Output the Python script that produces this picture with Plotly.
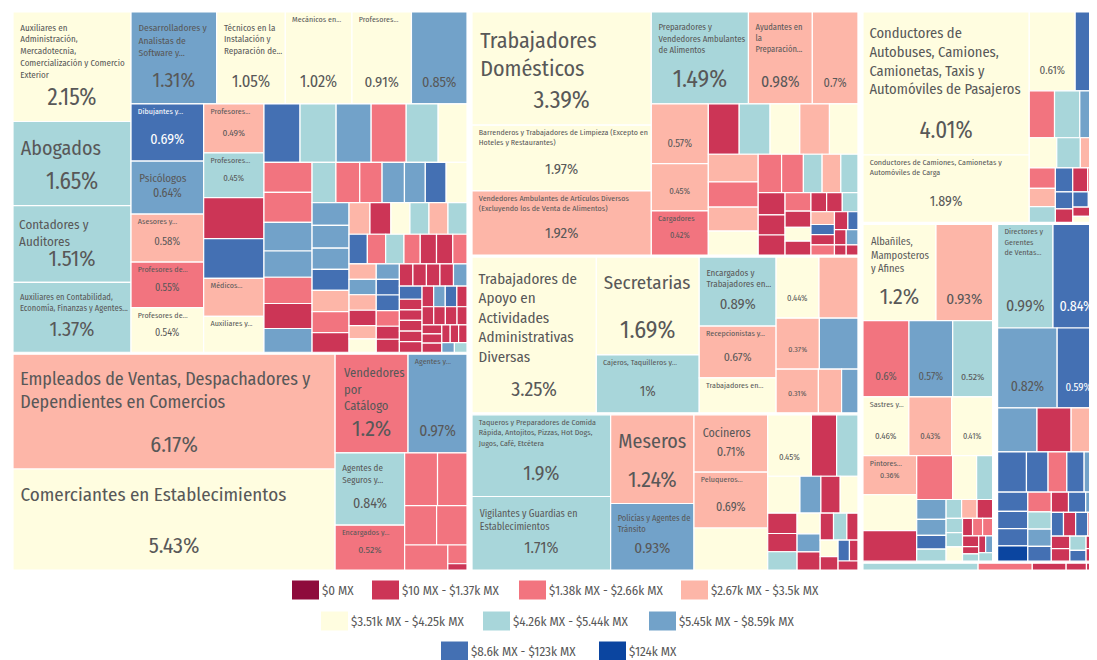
"""
Treemap de ocupaciones coloreado por rango de ingreso.
Plotly treemap (squarify, ratio aureo) + leyenda dibujada a mano.
"""

import plotly.graph_objects as go

# ── Rangos de ingreso (leyenda) ───────────────────────────────────────────────
bin_labels = [
    "$0 MX", "$10 MX - $1.37k MX", "$1.38k MX - $2.66k MX", "$2.67k MX - $3.5k MX",
    "$3.51k MX - $4.25k MX", "$4.26k MX - $5.44k MX", "$5.45k MX - $8.59k MX",
    "$8.6k MX - $123k MX", "$124k MX",
]
bin_colors = [
    "#8e0b3c", "#cc3556", "#f2747f", "#fdb6a8", "#fffde0",
    "#a8d6da", "#72a2c9", "#4470b3", "#0b45a0",
]

# ── Grandes grupos de ocupacion ───────────────────────────────────────────────
group_keys = ["prof", "ventas", "elem", "admin", "serv", "transp", "artes", "direc", "agro"]
group_names = [
    "Profesionistas y Técnicos",
    "Comerciantes, Empleados en Ventas y Agentes de Ventas",
    "Trabajadores en Actividades Elementales y de Apoyo",
    "Trabajadores Auxiliares en Actividades Administrativas",
    "Trabajadores en Servicios Personales y Vigilancia",
    "Operadores de Maquinaria Industrial, Ensambladores, Choferes y Conductores de Transporte",
    "Trabajadores Artesanales",
    "Funcionarios, Directores y Jefes",
    "Trabajadores en Actividades Agrícolas, Ganaderas, Forestales, Caza y Pesca",
]

# labels: "" -> solo porcentaje, None -> sin texto; ocupaciones sin etiqueta al final
prof_labels = [
    "Auxiliares en<br>Administración,<br>Mercadotecnia,<br>Comercialización y Comercio<br>Exterior",
    "Abogados", "Contadores y<br>Auditores",
    "Auxiliares en Contabilidad,<br>Economía, Finanzas y Agentes...",
    "Desarrolladores y<br>Analistas de<br>Software y...",
    "Técnicos en la<br>Instalación y<br>Reparación de...",
    "Mecánicos en...", "Profesores...", "", "Dibujantes y...", "Psicólogos",
    "Asesores y...", "Profesores de...", "Profesores de...", "Profesores...", "Profesores...",
    None, None, "Médicos...", "Auxiliares y...",
]
prof_values = [
    2.15, 1.65, 1.51, 1.37, 1.31, 1.05, 1.02, 0.91, 0.85, 0.69, 0.64, 0.58, 0.55, 0.54,
    0.49, 0.45, 0.41, 0.40, 0.38, 0.36,
    0.35, 0.35, 0.34, 0.34, 0.31, 0.28, 0.24, 0.24, 0.23, 0.21, 0.21, 0.20, 0.19,
    0.16, 0.16, 0.15, 0.15, 0.14, 0.14, 0.14, 0.14, 0.14, 0.13, 0.13, 0.13, 0.13, 0.12,
    0.11, 0.11, 0.10, 0.10, 0.10, 0.10, 0.09, 0.09, 0.09, 0.08, 0.08, 0.08,
    0.07, 0.07, 0.07, 0.07, 0.07, 0.06, 0.06, 0.06, 0.06, 0.06, 0.06,
    0.05, 0.05, 0.05, 0.05, 0.05, 0.05, 0.05, 0.05, 0.04, 0.04, 0.04, 0.04, 0.04, 0.04,
    0.04, 0.04, 0.035, 0.035, 0.035, 0.035, 0.03, 0.03, 0.03, 0.03, 0.025, 0.025, 0.025,
    0.02, 0.02,
]
prof_bins = [
    4, 5, 5, 5, 6, 4, 4, 4, 6, 7, 6, 3, 2, 4, 3, 5, 1, 7, 3, 4,
    7, 5, 6, 2, 5, 4, 2, 2, 6, 6, 2, 1, 6,
    5, 2, 2, 6, 6, 7, 4, 6, 6, 6, 7, 3, 2, 1,
    3, 1, 4, 5, 3, 5, 7, 2, 5, 2, 1, 1,
    2, 3, 6, 3, 1, 3, 4, 6, 7, 7, 2,
    1, 1, 1, 1, 1, 1, 6, 7, 1, 1, 1, 1, 1, 1,
    6, 7, 1, 1, 1, 1, 1, 1, 1, 1, 1, 1, 1,
    6, 5,
]

ventas_labels = [
    "Empleados de Ventas, Despachadores y<br>Dependientes en Comercios",
    "Comerciantes en Establecimientos", "Vendedores<br>por<br>Catálogo",
    "Agentes y...", "Agentes de<br>Seguros y...", "Encargados y...",
]
ventas_values = [6.17, 5.43, 1.2, 0.97, 0.84, 0.52, 0.29, 0.26, 0.21, 0.20, 0.18, 0.06, 0.02]
ventas_bins = [3, 4, 2, 6, 5, 2, 2, 2, 2, 2, 2, 2, 1]

elem_labels = [
    "Trabajadores<br>Domésticos",
    "Barrenderos y Trabajadores de Limpieza (Excepto en<br>Hoteles y Restaurantes)",
    "Vendedores Ambulantes de Artículos Diversos<br>(Excluyendo los de Venta de Alimentos)",
    "Preparadores y<br>Vendedores Ambulantes<br>de Alimentos",
    "Ayudantes en<br>la<br>Preparación...", "", "", "", "Cargadores",
]
elem_values = [
    3.39, 1.97, 1.92, 1.49, 0.98, 0.7, 0.57, 0.45, 0.42,
    0.26, 0.26, 0.25, 0.25, 0.24, 0.23, 0.21, 0.20, 0.20, 0.15, 0.14, 0.12, 0.12, 0.11,
    0.10, 0.09, 0.09, 0.08, 0.07, 0.06, 0.06, 0.05, 0.05, 0.05, 0.05, 0.04, 0.04, 0.04,
    0.04, 0.03, 0.03, 0.03, 0.02, 0.02,
]
elem_bins = [
    4, 4, 3, 5, 3, 3, 3, 3, 2,
    1, 5, 4, 3, 4, 3, 2, 3, 4, 2, 2, 5, 3, 5,
    1, 1, 1, 2, 1, 4, 1, 1, 1, 5, 3, 7, 1, 2,
    1, 7, 1, 6, 1, 1,
]

admin_labels = [
    "Trabajadores de<br>Apoyo en<br>Actividades<br>Administrativas<br>Diversas",
    "Secretarias", "Cajeros, Taquilleros y...", "Encargados y<br>Trabajadores en...",
    "Recepcionistas y...", "Trabajadores en...", "", None, "", None, "",
]
admin_values = [3.25, 1.69, 1.0, 0.89, 0.67, 0.45, 0.44, 0.40, 0.37, 0.33, 0.31, 0.17, 0.12]
admin_bins = [4, 4, 5, 5, 3, 4, 4, 3, 3, 6, 3, 3, 6]

serv_labels = [
    "Taqueros y Preparadores de Comida<br>Rápida, Antojitos, Pizzas, Hot Dogs,<br>Jugos, Café, Etcétera",
    "Vigilantes y Guardias en<br>Establecimientos", "Meseros",
    "Policías y Agentes de<br>Tránsito", "Cocineros", "Peluqueros...", None, "",
]
serv_values = [
    1.9, 1.71, 1.24, 0.93, 0.71, 0.69, 0.52, 0.45,
    0.26, 0.22, 0.20, 0.13, 0.12, 0.11, 0.10, 0.09, 0.09, 0.08,
    0.07, 0.07, 0.06, 0.06, 0.05, 0.05, 0.04, 0.04, 0.03, 0.03,
]
serv_bins = [
    5, 5, 3, 6, 3, 3, 4, 4,
    1, 5, 4, 6, 1, 4, 1, 1, 5, 4,
    6, 1, 1, 5, 1, 4, 1, 7, 1, 1,
]

transp_labels = [
    "Conductores de<br>Autobuses, Camiones,<br>Camionetas, Taxis y<br>Automóviles de Pasajeros",
    "Conductores de Camiones, Camionetas y<br>Automóviles de Carga", "", None,
]
transp_values = [
    4.01, 1.89, 0.61, 0.33,
    0.20, 0.20, 0.16, 0.14, 0.12, 0.10, 0.09, 0.08, 0.07, 0.07,
    0.06, 0.05, 0.05, 0.04, 0.04, 0.03, 0.03, 0.02, 0.02,
]
transp_bins = [
    4, 4, 4, 7,
    2, 5, 6, 4, 5, 3, 2, 3, 5, 7,
    1, 2, 7, 1, 7, 3, 1, 4, 1,
]

artes_labels = [
    "Albañiles,<br>Mamposteros<br>y Afines", "", "", "", "", "Sastres y...", "", "",
    "Pintores...",
]
artes_values = [
    1.2, 0.93, 0.6, 0.57, 0.52, 0.46, 0.43, 0.41, 0.36,
    0.33, 0.28, 0.27, 0.18, 0.12, 0.10, 0.08, 0.07, 0.06, 0.05, 0.05, 0.05,
    0.04, 0.04, 0.04, 0.03, 0.03, 0.03, 0.03, 0.02, 0.02, 0.02, 0.02, 0.02,
]
artes_bins = [
    4, 3, 2, 6, 5, 4, 3, 4, 3,
    4, 1, 2, 4, 5, 6, 6, 7, 5, 5, 3, 1,
    5, 5, 4, 1, 2, 2, 1, 1, 5, 1, 6, 5,
]

direc_labels = ["Directores y<br>Gerentes<br>de Ventas...", "", "", ""]
direc_values = [
    0.99, 0.84, 0.82, 0.59,
    0.30, 0.26, 0.22, 0.20, 0.15, 0.13, 0.12, 0.11, 0.10, 0.09, 0.09, 0.08, 0.08,
    0.07, 0.07, 0.06, 0.06, 0.06, 0.05, 0.05, 0.05, 0.05, 0.05, 0.04, 0.04, 0.04,
    0.03, 0.03, 0.03,
]
direc_bins = [
    5, 7, 6, 7,
    6, 1, 3, 7, 7, 2, 7, 6, 7, 7, 7, 8, 2,
    5, 6, 7, 1, 7, 6, 7, 1, 7, 2, 1, 1, 5,
    7, 1, 1,
]

agro_labels = []
agro_values = [0.17, 0.08, 0.05, 0.03, 0.02]
agro_bins = [5, 2, 1, 1, 1]

# ── Estilo ───────────────────────────────────────────────────────────────────
FONT = "Fira Sans Condensed, Liberation Sans Narrow, DejaVu Sans Condensed, Roboto, sans-serif"
TEXT_GREY = "#585858"
CLEAR = "rgba(0,0,0,0)"
NO_PCT = {"Médicos...", "Auxiliares y...", "Trabajadores en..."}

# tamano de la etiqueta (por prefijo); por defecto 8
LABEL_SIZE = {
    "Auxiliares en<br>Admin": 9, "Abogados": 20, "Contadores": 13,
    "Auxiliares en Contab": 9, "Desarrolladores": 9.5, "Técnicos": 9,
    "Psicólogos": 11, "Empleados de Ventas": 18, "Comerciantes": 19,
    "Vendedores<br>por": 12.5, "Agentes de<br>Seguros": 9, "Trabajadores<br>Dom": 22,
    "Preparadores": 9, "Trabajadores de<br>Apoyo": 15, "Secretarias": 19,
    "Encargados y<br>Trab": 9, "Vigilantes": 10, "Meseros": 20, "Policías": 9,
    "Cocineros": 12, "Conductores de<br>Auto": 14.5, "Albañiles": 10.5, "Ayudantes": 8.5,
}
# excepciones al tamano del porcentaje
PCT_SIZE = {
    "Barrenderos": 15, "Vendedores Ambulantes": 15, "Conductores de Camiones": 14,
    "Vigilantes": 16, "Taqueros": 20, "Cajeros": 14, "Trabajadores de<br>Apoyo": 20,
    "Empleados": 22, "Comerciantes": 22, "Vendedores<br>por": 22, "Meseros": 22,
    "Albañiles": 22, "Trabajadores<br>Dom": 24, "Preparadores": 24, "Secretarias": 24,
    "Psicólogos": 12, "Dibujantes": 14,
}

# pagina: el navegador deja 8 px de margen al cuerpo
PAGE_OFF = 8
FIG_W, FIG_H = 1097, 660
MARGIN_L, MARGIN_T, PLOT_W, PLOT_H = 0, 2, 1097, 562


def _lookup(table, label, default):
    for key, val in table.items():
        if label and label.startswith(key):
            return val
    return default


def _pct_size(v):
    return max(8, min(23, 16 * v ** 0.75))


def _label_text(lab, size):
    """Etiqueta con un pequeno margen superior e izquierdo (como D3plus)."""
    indent = "&nbsp;" * (2 if size < 13 else 1)
    lines = [indent + line for line in lab.split("<br>")]
    if size > 8:
        # linea invisible para bajar un poco las etiquetas grandes
        lines.insert(0, f"<span style='font-size:4px;color:{CLEAR}'>.</span>")
    return "<br>".join(lines)


groups = [
    (prof_labels, prof_values, prof_bins),
    (ventas_labels, ventas_values, ventas_bins),
    (elem_labels, elem_values, elem_bins),
    (admin_labels, admin_values, admin_bins),
    (serv_labels, serv_values, serv_bins),
    (transp_labels, transp_values, transp_bins),
    (artes_labels, artes_values, artes_bins),
    (direc_labels, direc_values, direc_bins),
    (agro_labels, agro_values, agro_bins),
]

ids, parents, labels, values, colors = ["root"], [""], ["Ocupaciones"], [0], ["white"]
label_txt, pct_txt, label_sz, txt_col = [""], [""], [8], [CLEAR]

for key, name in zip(group_keys, group_names):
    ids.append(key)
    parents.append("root")
    labels.append(name)
    values.append(0)
    colors.append("white")
    label_txt.append("")
    pct_txt.append("")
    label_sz.append(8)
    txt_col.append(CLEAR)

for key, (g_labels, g_values, g_bins) in zip(group_keys, groups):
    for i, (v, b) in enumerate(zip(g_values, g_bins)):
        lab = g_labels[i] if i < len(g_labels) else None
        size = _lookup(LABEL_SIZE, lab, 8)
        ids.append(f"{key}{i}")
        parents.append(key)
        labels.append(lab.replace("<br>", " ") if lab else "Otra ocupación")
        values.append(v)
        colors.append(bin_colors[b])
        txt_col.append("white" if b in (0, 7, 8) else TEXT_GREY)
        label_txt.append(_label_text(lab, size) if lab else "")
        label_sz.append(size)
        if lab is not None and lab not in NO_PCT:
            psize = _lookup(PCT_SIZE, lab, _pct_size(v))
            pct_txt.append(
                f"<span style='font-size:{psize:.1f}px'>{v:g}%</span>"
                f"<br><span style='color:{CLEAR}'>.</span>"
            )
        else:
            pct_txt.append("")

common = dict(
    ids=ids, parents=parents, labels=labels, values=values,
    branchvalues="remainder", sort=True,
    tiling=dict(packing="squarify", squarifyratio=1.618034, pad=0),
    pathbar=dict(visible=False),
    textinfo="text",
)
PAD = dict(t=1, l=2.5, r=2.5, b=1)

fig = go.Figure()
# capa 1: rectangulos + nombres arriba a la izquierda
fig.add_trace(go.Treemap(
    **common,
    text=label_txt,
    textposition="top left",
    textfont=dict(family=FONT, size=label_sz, color=txt_col),
    marker=dict(colors=colors, line=dict(color="white", width=1.2), pad=PAD),
    root=dict(color="white"),
    hovertemplate="%{label}<br>%{value}%<extra></extra>",
))
# capa 2: porcentajes centrados (rectangulos transparentes, mismo acomodo)
fig.add_trace(go.Treemap(
    **common,
    text=pct_txt,
    textposition="bottom center",
    textfont=dict(family=FONT, size=9, color=txt_col),
    marker=dict(colors=[CLEAR] * len(ids), line=dict(width=0), pad=PAD),
    root=dict(color=CLEAR),
    hoverinfo="skip",
))

# ── Leyenda manual (coordenadas de pagina) ───────────────────────────────────
legend_rows = [[0, 1, 2, 3], [4, 5, 6], [7, 8]]
legend_x = [[292, 372, 519, 681], [321, 483, 649], [441, 599]]
legend_y = [590, 621, 651]
SW_W, SW_H = 27, 19


def _px(x):
    return (x - PAGE_OFF - MARGIN_L) / PLOT_W


def _py(y):
    return (MARGIN_T + PLOT_H - (y - PAGE_OFF)) / PLOT_H


shapes, annotations = [], []
for row, xs, yc in zip(legend_rows, legend_x, legend_y):
    for b, x0 in zip(row, xs):
        shapes.append(dict(
            type="rect", xref="paper", yref="paper",
            x0=_px(x0), x1=_px(x0 + SW_W), y0=_py(yc + SW_H / 2), y1=_py(yc - SW_H / 2),
            fillcolor=bin_colors[b], line=dict(width=0),
        ))
        annotations.append(dict(
            xref="paper", yref="paper", x=_px(x0 + SW_W + 1), y=_py(yc),
            xanchor="left", yanchor="middle", showarrow=False,
            text=bin_labels[b], font=dict(family=FONT, size=13, color=TEXT_GREY),
        ))

fig.update_layout(
    width=FIG_W, height=FIG_H,
    margin=dict(l=MARGIN_L, r=FIG_W - MARGIN_L - PLOT_W, t=MARGIN_T,
                b=FIG_H - MARGIN_T - PLOT_H),
    paper_bgcolor="white",
    showlegend=False,
    shapes=shapes,
    annotations=annotations,
)

fig.write_html("out.html")
